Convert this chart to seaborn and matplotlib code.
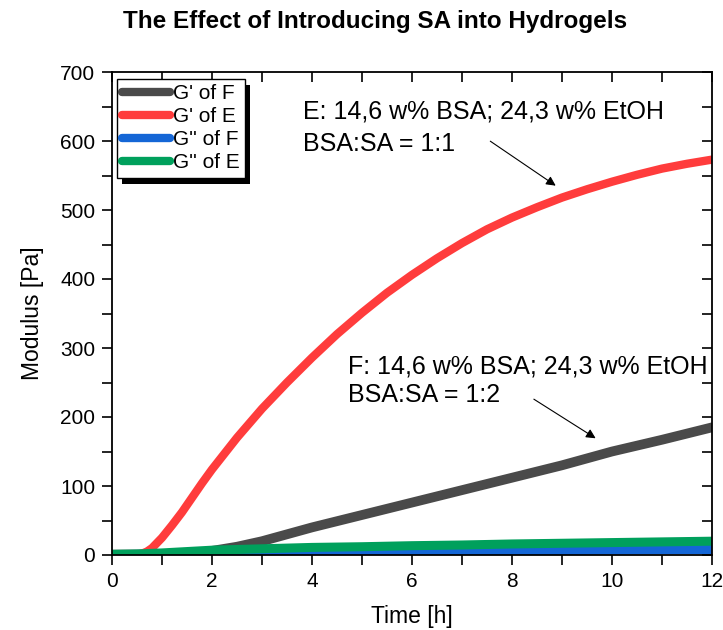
import numpy as np
import pandas as pd
import seaborn as sns
import matplotlib
matplotlib.use("Agg")
import matplotlib.pyplot as plt
from matplotlib import lines as mlines
from matplotlib.patches import Rectangle
from matplotlib.ticker import MultipleLocator
from matplotlib.transforms import IdentityTransform

# Storage modulus G' of sample E (BSA:SA = 1:1)
t_gp_e = [0, 0.5, 0.6, 0.7, 0.8, 1.0, 1.2, 1.4, 1.6, 1.8, 2.0, 2.5, 3.0, 3.5, 4.0,
          4.5, 5.0, 5.5, 6.0, 6.5, 7.0, 7.5, 8.0, 8.5, 9.0, 9.5, 10.0, 10.5,
          11.0, 11.5, 12.0]
gp_e = [0, 0.5, 2, 5, 10, 25, 43, 62, 83, 104, 124, 170, 212, 250, 286,
        320, 351, 380, 406, 430, 452, 472, 489, 504, 518, 530, 541, 551,
        560, 567, 573]

# Storage modulus G' of sample F (BSA:SA = 1:2)
t_gp_f = [0, 1.0, 1.5, 1.8, 2.0, 2.5, 3.0, 3.5, 4.0, 5.0, 6.0, 7.0, 8.0, 9.0,
          10.0, 11.0, 12.0]
gp_f = [0.5, 1, 2, 4, 6, 12, 20, 30, 40, 58, 76, 94, 112, 130, 150, 167, 185]

# Loss moduli G''
t_gpp = [0, 0.5, 1.0, 1.5, 2.0, 3.0, 4.0, 5.0, 6.0, 7.0, 8.0, 9.0, 10.0, 11.0, 12.0]
gpp_f = [0.5, 0.8, 1, 1.5, 2, 3, 4, 4.5, 5, 5.5, 6, 6.5, 7, 7.5, 8]
gpp_e = [1, 1.5, 3, 5, 7, 9, 11, 12, 13.5, 14.5, 16, 17, 18, 19, 20]

series_names = ["G' of F", "G' of E", "G'' of F", "G'' of E"]
series_colors = ["#4a4a4a", "#ff3c3c", "#1466d6", "#00a05c"]
series_widths = [7, 6, 6.5, 6.5]

frames = [
    pd.DataFrame({"Time": t_gp_f, "Modulus": gp_f, "Series": series_names[0]}),
    pd.DataFrame({"Time": t_gp_e, "Modulus": gp_e, "Series": series_names[1]}),
    pd.DataFrame({"Time": t_gpp, "Modulus": gpp_f, "Series": series_names[2]}),
    pd.DataFrame({"Time": t_gpp, "Modulus": gpp_e, "Series": series_names[3]}),
]
df = pd.concat(frames, ignore_index=True)

sns.set_style("ticks")
plt.rcParams["font.family"] = ["Liberation Sans", "DejaVu Sans"]
plt.rcParams["text.color"] = "black"
plt.rcParams["axes.labelcolor"] = "black"
plt.rcParams["xtick.color"] = "black"
plt.rcParams["ytick.color"] = "black"

fig = plt.figure(figsize=(7.23, 6.30), dpi=100)
ax = fig.add_axes([112 / 723, 75 / 630, 600 / 723, 483 / 630])

sns.lineplot(data=df, x="Time", y="Modulus", hue="Series", hue_order=series_names,
             palette=series_colors, linewidth=6, ax=ax, sort=True,
             solid_capstyle="round", estimator=None)
for line, lw in zip(ax.get_lines(), series_widths):
    line.set_linewidth(lw)

ax.set_xlim(0, 12)
ax.set_ylim(0, 700)
ax.xaxis.set_major_locator(MultipleLocator(2))
ax.xaxis.set_minor_locator(MultipleLocator(1))
ax.yaxis.set_major_locator(MultipleLocator(100))
ax.yaxis.set_minor_locator(MultipleLocator(50))

for side in ["left", "right", "top", "bottom"]:
    ax.spines[side].set_visible(True)
    ax.spines[side].set_linewidth(1.3)
    ax.spines[side].set_color("black")

ax.tick_params(which="both", direction="out", length=7, width=1.2, colors="black",
               labelsize=15, pad=5, labelcolor="black")
ax.tick_params(which="both", top=True, right=True, labeltop=False, labelright=False)

# mirrored ticks on top and right point inward
for axis_obj, marker in ((ax.xaxis, mlines.TICKDOWN), (ax.yaxis, mlines.TICKLEFT)):
    for tick in axis_obj.get_major_ticks() + axis_obj.get_minor_ticks():
        tick.tick2line.set_marker(marker)

ax.set_xlabel("Time [h]", fontsize=16.5, labelpad=10)
ax.set_ylabel("Modulus [Pa]", fontsize=16.5, labelpad=12)

fig.text(0.519, 1 - 28 / 630, "The Effect of Introducing SA into Hydrogels",
         ha="center", va="baseline", fontsize=17.5, fontweight="bold")

leg = ax.legend(loc="upper left", bbox_to_anchor=(0.008, 0.986), fontsize=15,
                frameon=True, fancybox=False, edgecolor="black", framealpha=1,
                borderpad=0.25, handlelength=2.3, handletextpad=0.15,
                labelspacing=0.2, borderaxespad=0)
leg.get_frame().set_linewidth(1.0)
for line in leg.get_lines():
    line.set_linewidth(6)
    line.set_solid_capstyle("round")
leg.set_zorder(10)

# labels for the two samples, with arrows pointing at their G' curves
ax.text(3.82, 643, "E: 14,6 w% BSA; 24,3 w% EtOH", fontsize=18, va="center", ha="left")
ax.text(3.82, 595, "BSA:SA = 1:1", fontsize=18, va="center", ha="left")
ax.annotate("", xy=(8.92, 533), xytext=(7.52, 602),
            arrowprops=dict(arrowstyle="-|>", color="black", lw=0.8, mutation_scale=14))

ax.text(4.72, 273, "F: 14,6 w% BSA; 24,3 w% EtOH", fontsize=18, va="center", ha="left")
ax.text(4.72, 232, "BSA:SA = 1:2", fontsize=18, va="center", ha="left")
ax.annotate("", xy=(9.72, 167), xytext=(8.39, 228),
            arrowprops=dict(arrowstyle="-|>", color="black", lw=0.8, mutation_scale=14))

# solid black legend shadow
fig.canvas.draw()
bb = leg.get_window_extent()
shadow = Rectangle((bb.x0 + 5, bb.y0 - 6), bb.width, bb.height, transform=IdentityTransform(),
                   facecolor="black", edgecolor="none", zorder=9, clip_on=False)
ax.add_artist(shadow)

fig.savefig("out.png", dpi=100)
